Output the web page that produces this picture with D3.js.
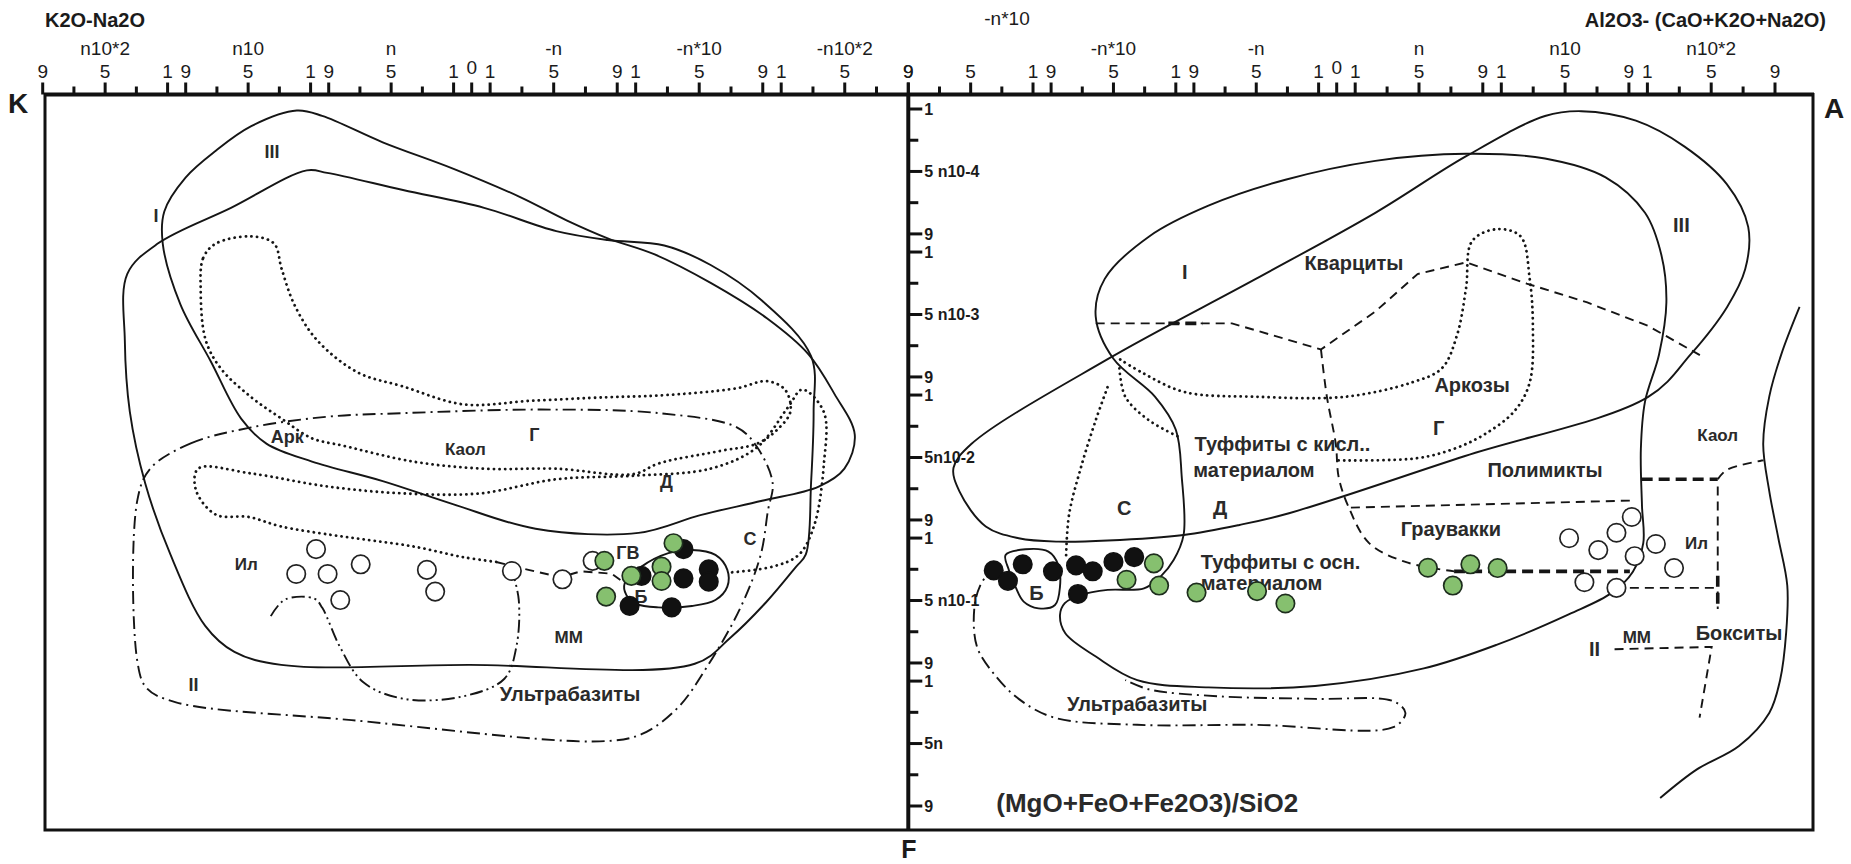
<!DOCTYPE html>
<html>
<head>
<meta charset="utf-8">
<script src="https://cdn.jsdelivr.net/npm/d3@7"></script>
<style>
  body { margin: 0; background: #fff; }
  text { fill: #1b1b1b; }
</style>
</head>
<body>
<svg id="chart"></svg>
<script>
// axis units: inside a decade the mantissa 1..9 runs linearly (8 units), decades are split by a small gap
const GAP = 1.16
const DEC = 8 + GAP
const TX_MAX = GAP + 2 * DEC + 8
const TY_MAX = 4 * DEC + 8

const xDecadeExp = [0, 1, 2]
const yDecadeExp = [0, 1, 2, 3, 4]          // 1e-4 ... n
const mantissaTicks = [1, 3, 5, 7, 9]
const mantissaLabels = [1, 5, 9]

const leftDecadeNames = [[1, 2, "n10*2"], [1, 1, "n10"], [1, 0, "n"], [-1, 0, "-n"], [-1, 1, "-n*10"], [-1, 2, "-n10*2"]]
const rightDecadeNames = [[-1, 1, "-n*10"], [-1, 0, "-n"], [1, 0, "n"], [1, 1, "n10"], [1, 2, "n10*2"]]
const yDecadeNames = ["5 n10-4", "5 n10-3", "5n10-2", "5 n10-1", "5n"]

// ---- left diagram K2O-Na2O vs (MgO+FeO+Fe2O3)/SiO2 (positions in axis units)
const leftIII = [[19.69,6.56],[18.33,4.39],[16.39,2.67],[14.12,1.10],[11.20,0.10],[9.58,0.44],[5.70,2.13],[1.16,3.83],[-3.05,5.64],[-5.97,7.13],[-8.56,8.28],[-11.48,9.30],[-15.04,11.14],[-18.60,13.42],[-21.20,15.71],[-22.82,18.23],[-24.11,20.86],[-23.46,23.03],[-21.84,24.18],[-18.28,25.09],[-14.39,26.01],[-10.50,27.15],[-4.02,26.88],[1.16,25.32],[5.70,23.83],[10.23,22.58],[13.15,21.43],[14.77,19.83],[16.71,16.17],[18.66,12.51],[19.79,8.62]]
const leftI = [[22.06,10.56],[20.11,8.62],[15.42,6.33],[10.56,3.93],[9.26,4.09],[4.40,5.19],[-0.78,6.33],[-5.32,7.82],[-8.56,8.39],[-12.12,8.74],[-15.04,9.99],[-18.28,12.28],[-21.36,15.83],[-21.52,19.38],[-21.36,23.95],[-21.03,28.53],[-20.41,29.32],[-18.53,31.59],[-16.28,33.86],[-14.04,35.53],[0.21,35.60],[12.20,35.60],[15.20,34.77],[17.07,33.10],[19.30,28.53],[20.92,23.95],[21.90,19.38],[22.22,14.80]]
const leftII = [[20.59,23.03],[18.00,21.42],[14.11,20.39],[9.27,19.71],[4.39,19.48],[-4.36,19.25],[-11.81,19.48],[-16.69,20.39],[-17.96,21.65],[-18.94,23.94],[-18.64,25.75],[-18.19,28.55],[-16.91,31.95],[-14.81,35.73],[-12.94,38.38],[-10.69,40.04],[-8.06,40.50],[7.69,39.14],[18.94,38.00],[20.82,37.09],[21.42,35.36],[21.42,25.07]]
const leftUltra = [[12.87,32.48],[11.96,31.42],[10.09,31.35],[9.57,31.95],[8.44,34.45],[6.94,36.72],[4.32,37.78],[0.56,37.62],[-2.06,36.49],[-2.81,34.45],[-2.96,31.42],[-2.51,29.46]]
const leftKaol = [[17.36,11.60],[17.20,9.54],[16.39,8.62],[14.12,8.16],[12.66,8.62],[12.18,10.22],[11.37,12.51],[9.91,14.80],[7.32,16.86],[4.40,17.77],[0.51,18.92],[-3.70,18.69],[-8.56,18.46],[-11.80,18.35],[-16.66,17.89],[-18.60,17.43],[-19.74,18.00],[-20.06,19.38],[-19.25,20.52],[-17.96,21.43],[-15.69,21.89],[-11.80,22.69],[-10.18,23.38],[-5.32,23.04],[-0.78,23.04],[3.75,22.58],[8.29,21.55],[10.23,21.09],[12.18,19.83],[14.12,18.46],[16.06,16.63],[17.04,14.80]]
const leftD = [[-1.54,29.01],[0.56,28.70],[3.72,28.02],[6.86,27.57],[9.04,27.27],[12.19,26.74],[14.29,26.13],[16.39,25.98],[17.67,24.39],[17.52,23.03],[14.14,23.34],[9.27,24.17],[4.39,24.62],[-0.49,24.62],[-5.36,23.71],[-10.16,23.49],[-15.04,23.03],[-17.96,21.67],[-19.91,19.10],[-20.81,17.97],[-22.16,19.40],[-22.16,22.81],[-21.56,26.66],[-20.59,28.55],[-18.94,29.31],[-16.16,29.69]]
const leftGV = [[-1.54,29.01],[-3.64,29.53],[-5.59,29.99],[-6.86,29.61],[-8.81,29.76],[-9.64,30.37]]
const leftB = [[-9.63,30.37],[-10.69,29.31],[-12.38,28.45],[-13.86,28.24],[-15.34,28.56],[-16.09,29.52],[-16.09,30.59],[-15.34,31.45],[-13.86,31.83],[-11.74,31.92],[-10.36,31.70],[-9.73,31.12]]

const leftOpen = [[9.97,28.19],[11.24,29.78],[9.23,29.78],[7.11,29.16],[8.42,31.45],[2.87,29.52],[2.34,30.91],[-2.53,29.59],[-5.71,30.12],[-7.61,28.94]]
const leftGreen = [[-8.35,28.94],[-10.05,29.90],[-11.95,29.31],[-11.95,30.23],[-8.46,31.23],[-12.70,27.81]]
const leftBlack = [[-10.69,29.90],[-13.33,30.06],[-14.92,29.48],[-14.92,30.27],[-9.94,31.82],[-12.59,31.92],[-13.33,28.19]]

const leftLabels = [["III",12.79,2.70],["I",20.22,6.85],["Арк",11.81,20.99],["Каол",0.41,21.75],["Г",-3.94,20.84],["Д",-12.26,23.86],["С",-17.51,27.49],["Ил",14.44,29.16],["ГВ",-9.83,28.43],["Б",-10.66,31.23],["ММ",-6.11,33.79],["II",17.82,36.87],["Ультрабазиты",-6.19,37.47]]

// ---- right diagram Al2O3-(CaO+K2O+Na2O) vs (MgO+FeO+Fe2O3)/SiO2
const rightIII = [[-24.58,22.98],[-23.44,21.46],[-14.69,16.02],[-5.19,10.88],[2.42,6.65],[8.12,3.02],[13.06,0.45],[15.34,0.14],[18.76,0.75],[21.81,2.41],[24.47,4.83],[25.80,7.55],[25.61,10.27],[24.47,12.69],[22.19,15.72],[19.53,18.44],[8.0,22.24],[-3.06,25.89],[-6.24,26.64],[-9.82,27.28],[-14.69,27.64],[-17.85,27.71],[-20.40,27.49],[-22.51,26.74],[-24.20,24.49]]
const rightI = [[-9.82,27.28],[-9.94,23.56],[-10.32,20.54],[-11.66,18.42],[-14.32,16.00],[-15.46,13.28],[-14.88,10.88],[-12.03,8.16],[-8.23,6.19],[-3.29,4.53],[2.42,3.32],[8.12,2.87],[13.06,3.17],[16.86,4.38],[19.33,6.65],[20.36,9.37],[20.67,12.39],[20.21,15.72],[19.33,18.74],[19.07,21.77],[19.14,25.39],[19.22,27.81],[18.57,29.63],[17.24,30.99],[14.58,32.35],[10.02,34.32],[5.46,35.83],[-1.39,36.95],[-8.23,37.04],[-12.79,36.58],[-15.45,35.07],[-17.41,33.58],[-17.75,32.41],[-17.44,31.65],[-16.38,31.12],[-14.69,30.80],[-12.36,30.70],[-11.30,29.95],[-10.46,28.89]]
const rightB = [[-21.24,28.56],[-19.97,28.20],[-18.49,28.35],[-17.86,29.20],[-17.75,30.59],[-18.07,31.77],[-19.13,31.98],[-20.08,31.55],[-20.61,30.59],[-21.03,29.52]]
const rightEdge = [[29.02,12.68],[27.88,15.70],[27.12,18.42],[26.74,21.45],[27.12,24.47],[27.69,27.49],[28.25,30.52],[28.18,33.54],[27.80,36.57],[27.12,38.68],[25.22,40.80],[22.56,42.31],[20.28,44.13]]

const rightQuartz = [[-15.46,13.73],[-6.72,13.73],[-1.01,15.40],[2.41,12.98],[5.07,10.57],[8.12,9.82],[11.91,11.18],[15.71,12.39],[19.52,13.89],[22.94,15.86]]
const rightQuartzBold = [[-10.8,13.73],[-8.6,13.73]]
const rightGrau = [[-1.01,15.40],[-0.63,18.43],[-0.06,21.45],[0.12,23.56],[0.70,25.38],[2.03,27.80],[4.31,29.01],[7.36,29.61]]
const rightGrauBold = [[7.36,29.61],[18.38,29.61]]
const rightGrauTop = [[0.89,25.53],[18.75,25.07]]
const rightKaolBold = [[19.12,23.71],[23.89,23.71]]
const rightKaol = [[23.89,23.71],[24.46,23.11],[26.76,22.50]]
const rightBauxV = [[23.89,24.17],[23.89,32.03]]
const rightBauxVBold = [[23.89,29.9],[23.89,32.03]]
const rightIlBase = [[18.38,30.67],[23.89,30.67]]
const rightBaux = [[17.42,34.60],[23.51,34.45],[22.75,38.98]]

const rightArkose = [[0.12,22.51],[5.07,22.36],[7.36,21.76],[9.25,20.85],[11.15,19.34],[12.10,17.52],[12.30,13.89],[12.10,10.88],[11.53,8.16],[10.01,7.70],[8.49,8.46],[8.11,11.48],[7.54,14.50],[6.59,16.61],[4.69,17.52],[0.51,18.43],[-5.19,18.43],[-9.75,18.13],[-12.42,16.92],[-13.94,16.01]]
const rightCdots = [[-13.94,16.61],[-13.56,18.43],[-12.04,19.94],[-10.14,20.99]]
const rightVdots = [[-14.70,17.82],[-15.46,19.94],[-16.41,22.97],[-17.17,25.99],[-17.36,28.70]]
const rightUltra = [[-21.92,29.16],[-22.87,30.52],[-23.25,32.03],[-23.07,34.45],[-21.92,36.26],[-20.40,37.78],[-18.12,38.98],[-12.80,39.44],[-5.19,39.44],[3.55,39.59],[4.31,38.68],[3.55,37.93],[-1.39,37.78],[-7.47,37.62],[-12.04,37.17],[-13.56,36.57]]

const rightOpen = [[14.57,27.49],[16.40,28.25],[17.54,27.14],[18.50,26.13],[18.68,28.64],[20.01,27.86],[21.15,29.40],[15.53,30.31],[17.54,30.67]]
const rightGreen = [[-11.73,29.10],[-13.48,30.15],[-11.39,30.52],[-8.99,30.97],[-5.11,30.88],[-3.29,31.67],[5.72,29.38],[8.38,29.16],[10.09,29.40],[7.28,30.52]]
const rightBlack = [[-22.00,29.55],[-21.09,30.22],[-20.14,29.16],[-18.20,29.61],[-16.72,29.23],[-15.65,29.61],[-16.60,31.06],[-14.32,29.01],[-12.99,28.70]]

const rightLabels = [["I",-9.75,10.42],["Кварциты",1.08,9.82],["III",21.61,7.40],["Аркозы",8.49,17.67],["Г",6.40,20.39],["Туффиты с кисл..",-3.48,21.45],["материалом",-5.31,23.11],["Каол",23.89,20.84],["Полимикты",13.06,23.11],["С",-13.63,25.53],["Д",-7.47,25.53],["Граувакки",7.16,26.89],["Туффиты с осн.",-3.60,29.01],["материалом",-4.82,30.37],["Ил",22.56,27.80],["Б",-19.26,30.97],["ММ",18.82,33.84],["II",16.17,34.60],["Бокситы",25.22,33.54],["Ультрабазиты",-12.80,38.08],["(MgO+FeO+Fe2O3)/SiO2",-12.15,44.43]]

// ---- layout
const W = 1851, H = 864
const frame = {left: 45, mid: 908.3, right: 1813, top: 94.5, bottom: 830}
const FONT = '"Liberation Sans Narrow", "Liberation Sans", Arial, sans-serif'
const FONT_W = '"Liberation Sans", Arial, sans-serif'
const labelSize = {"(MgO+FeO+Fe2O3)/SiO2": 26, "Каол": 17, "Ил": 17, "ММ": 17, "Ультрабазиты": 20}

const svg = d3.select('#chart').attr('width', W).attr('height', H)

const xL = d3.scaleLinear().domain([TX_MAX, 0, -TX_MAX]).range([42.7, 471.7, frame.mid])
const xR = d3.scaleLinear().domain([-TX_MAX, 0, TX_MAX]).range([frame.mid, 1336.7, 1775])
const y = d3.scaleLinear().domain([0, TY_MAX]).range([109, 806])

const tx = (sign, e, m) => sign * (GAP + e * DEC + (m - 1))
const ty = (e, m) => e * DEC + (m - 1)

// ---- frame
const g = svg.append('g')
g.append('line').attr('x1', frame.left - 1).attr('x2', frame.right + 1).attr('y1', frame.top).attr('y2', frame.top)
  .attr('stroke', '#111').attr('stroke-width', 4)
g.append('rect').attr('x', frame.left).attr('y', frame.top).attr('width', frame.right - frame.left).attr('height', frame.bottom - frame.top)
  .attr('fill', 'none').attr('stroke', '#111').attr('stroke-width', 3)
g.append('line').attr('x1', frame.mid).attr('x2', frame.mid).attr('y1', frame.top).attr('y2', frame.bottom)
  .attr('stroke', '#111').attr('stroke-width', 4)

// ---- top axes
function topAxis(scale, names) {
  const ticks = []
  ;[1, -1].forEach(s => xDecadeExp.forEach(e => mantissaTicks.forEach(m => ticks.push({t: tx(s, e, m), m}))))
  ticks.push({t: 0, m: 0})
  const ax = svg.append('g')
  ax.selectAll('line').data(ticks).join('line')
    .attr('x1', d => scale(d.t)).attr('x2', d => scale(d.t))
    .attr('y1', frame.top).attr('y2', d => frame.top - (mantissaLabels.includes(d.m) || d.m === 0 ? 12 : 8))
    .attr('stroke', '#111').attr('stroke-width', 3)
  ax.selectAll('text.num').data(ticks.filter(d => mantissaLabels.includes(d.m) || d.m === 0)).join('text')
    .attr('class', 'num')
    .attr('x', d => scale(d.t)).attr('y', d => d.m === 0 ? 74 : 78)
    .attr('text-anchor', 'middle').attr('font-family', FONT).attr('font-size', 19)
    .text(d => d.m)
  ax.selectAll('text.dec').data(names).join('text')
    .attr('class', 'dec')
    .attr('x', d => scale(tx(d[0], d[1], 5))).attr('y', 55)
    .attr('text-anchor', 'middle').attr('font-family', FONT).attr('font-size', 19)
    .text(d => d[2])
}
topAxis(xL, leftDecadeNames)
topAxis(xR, rightDecadeNames)

// ---- vertical axis on the middle line
const yTicks = []
yDecadeExp.forEach(e => mantissaTicks.forEach(m => yTicks.push({t: ty(e, m), e, m})))
const yAx = svg.append('g')
yAx.selectAll('line').data(yTicks).join('line')
  .attr('x1', frame.mid).attr('x2', d => frame.mid + (mantissaLabels.includes(d.m) ? 14 : 10))
  .attr('y1', d => y(d.t)).attr('y2', d => y(d.t))
  .attr('stroke', '#111').attr('stroke-width', 3)
yAx.selectAll('text').data(yTicks.filter(d => mantissaLabels.includes(d.m))).join('text')
  .attr('x', frame.mid + 16).attr('y', d => y(d.t)).attr('dy', '0.36em')
  .attr('font-family', FONT_W).attr('font-weight', 'bold').attr('font-size', 16)
  .text(d => d.m === 5 ? yDecadeNames[d.e] : d.m)

// ---- titles
const titles = [
  ["K2O-Na2O", frame.left, 27, 'start', 20, FONT_W, 'bold'],
  ["Al2O3- (CaO+K2O+Na2O)", 1826, 27, 'end', 20, FONT_W, 'bold'],
  ["-n*10", 1007, 25, 'middle', 19, FONT, 'normal'],
  ["K", 18, 113, 'middle', 28, FONT_W, 'bold'],
  ["A", 1834, 118, 'middle', 28, FONT_W, 'bold'],
  ["F", 909, 858, 'middle', 25, FONT_W, 'bold']
]
svg.selectAll('text.title').data(titles).join('text').attr('class', 'title')
  .attr('x', d => d[1]).attr('y', d => d[2]).attr('text-anchor', d => d[3])
  .attr('font-size', d => d[4]).attr('font-family', d => d[5]).attr('font-weight', d => d[6])
  .text(d => d[0])

// ---- outlines
const styles = {
  solid: {dash: null, width: 1.9},
  dash: {dash: '9 6', width: 1.9},
  bold: {dash: '11 6', width: 3.6},
  dot: {dash: '0.1 5.5', width: 2.8},
  dashdot: {dash: '13 5 2 5', width: 1.9},
  dashdot2: {dash: '13 4 2 4 2 4', width: 1.9}
}
function outline(scale, pts, style, closed, curve) {
  const c = curve || (closed ? d3.curveCatmullRomClosed.alpha(0.5) : d3.curveCatmullRom.alpha(0.5))
  const line = d3.line().x(d => scale(d[0])).y(d => y(d[1])).curve(c)
  const s = styles[style]
  svg.append('path').attr('d', line(pts)).attr('fill', 'none')
    .attr('stroke', '#151515').attr('stroke-width', s.width)
    .attr('stroke-dasharray', s.dash).attr('stroke-linecap', style === 'dot' ? 'round' : 'butt')
}

outline(xL, leftIII, 'solid', true)
outline(xL, leftI, 'solid', true)
outline(xL, leftII, 'dashdot', true)
outline(xL, leftUltra, 'dashdot2', false)
outline(xL, leftKaol, 'dot', true)
outline(xL, leftD, 'dot', false)
outline(xL, leftGV, 'dash', false, d3.curveLinear)
outline(xL, leftB, 'solid', true)

outline(xR, rightIII, 'solid', true)
outline(xR, rightI, 'solid', true)
outline(xR, rightB, 'solid', true)
outline(xR, rightEdge, 'solid', false)
outline(xR, rightQuartz, 'dash', false, d3.curveLinear)
outline(xR, rightQuartzBold, 'bold', false, d3.curveLinear)
outline(xR, rightGrau, 'dash', false)
outline(xR, rightGrauBold, 'bold', false, d3.curveLinear)
outline(xR, rightGrauTop, 'dash', false, d3.curveLinear)
outline(xR, rightKaolBold, 'bold', false, d3.curveLinear)
outline(xR, rightKaol, 'dash', false)
outline(xR, rightBauxV, 'dash', false, d3.curveLinear)
outline(xR, rightBauxVBold, 'bold', false, d3.curveLinear)
outline(xR, rightIlBase, 'dash', false, d3.curveLinear)
outline(xR, rightBaux, 'dash', false, d3.curveLinear)
outline(xR, rightArkose, 'dot', false)
outline(xR, rightCdots, 'dot', false)
outline(xR, rightVdots, 'dot', false)
outline(xR, rightUltra, 'dashdot', false)

// ---- region labels
function labels(scale, list, size) {
  svg.append('g').selectAll('text').data(list).join('text')
    .attr('x', d => scale(d[1])).attr('y', d => y(d[2])).attr('dy', '0.36em')
    .attr('text-anchor', 'middle').attr('font-family', FONT_W).attr('font-weight', 'bold')
    .attr('font-size', d => labelSize[d[0]] || size).style('fill', '#2a2a2a')
    .text(d => d[0])
}
labels(xL, leftLabels, 18)
labels(xR, rightLabels, 20)

// ---- samples
function points(scale, list, fill, stroke) {
  svg.append('g').selectAll('circle').data(list).join('circle')
    .attr('cx', d => scale(d[0])).attr('cy', d => y(d[1])).attr('r', 9.2)
    .attr('fill', fill).attr('stroke', stroke).attr('stroke-width', 1.7)
}
points(xL, leftBlack, '#111', '#111')
points(xL, leftOpen, '#fff', '#222')
points(xL, leftGreen, '#86c06f', '#1d2d1d')
points(xR, rightBlack, '#111', '#111')
points(xR, rightOpen, '#fff', '#222')
points(xR, rightGreen, '#86c06f', '#1d2d1d')
</script>
</body>
</html>
